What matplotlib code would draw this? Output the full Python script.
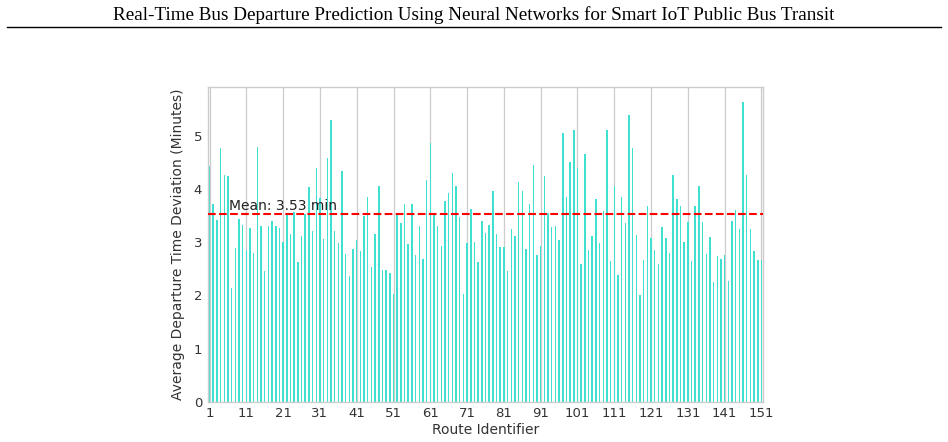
import matplotlib
matplotlib.use("Agg")
import matplotlib.pyplot as plt
from matplotlib.lines import Line2D
import numpy as np

title_text = "Real-Time Bus Departure Prediction Using Neural Networks for Smart IoT Public Bus Transit"

route_ids = list(range(1, 152))
deviation = [
    4.43, 3.72, 3.42, 4.77, 4.26, 4.25, 2.14, 2.89, 3.43, 3.33,
    2.85, 3.27, 2.79, 4.78, 3.30, 2.45, 3.30, 3.40, 3.31, 3.27,
    3.00, 3.52, 3.16, 3.56, 2.62, 3.12, 3.53, 4.03, 3.21, 4.40,
    3.83, 3.06, 4.58, 5.30, 3.21, 2.99, 4.34, 2.78, 2.36, 2.87,
    3.04, 2.83, 3.49, 3.84, 2.53, 3.15, 4.05, 2.47, 2.47, 2.41,
    2.02, 3.54, 3.35, 3.72, 2.96, 3.72, 2.75, 3.30, 2.68, 4.17,
    4.86, 3.52, 3.30, 2.93, 3.77, 3.92, 4.30, 4.06, 3.48, 2.02,
    2.99, 3.63, 3.01, 2.62, 3.40, 3.18, 3.33, 3.97, 3.16, 2.91,
    2.91, 2.45, 3.24, 3.12, 4.13, 3.97, 2.87, 3.71, 4.45, 2.76,
    2.93, 4.25, 3.54, 3.28, 3.31, 3.04, 5.06, 3.85, 4.50, 5.11,
    4.39, 2.58, 4.65, 2.85, 3.11, 3.81, 2.99, 3.58, 5.11, 2.64,
    4.06, 2.38, 3.84, 3.35, 5.39, 4.77, 3.14, 2.00, 2.66, 3.68,
    3.07, 2.86, 2.59, 3.29, 3.08, 2.79, 4.26, 3.81, 3.68, 3.01,
    3.38, 2.64, 3.68, 4.06, 3.38, 2.78, 3.09, 2.25, 2.74, 2.68,
    2.76, 2.26, 3.40, 3.60, 3.25, 5.63, 4.26, 3.24, 2.83, 2.66,
    2.66,
]
mean_value = 3.53
tick_positions = list(range(1, 152, 10))
tick_labels = [str(t) for t in tick_positions]

fig = plt.figure(figsize=(9.48, 4.42), dpi=100)

# page header
fig.text(0.5, 1 - 15 / 442, title_text, ha="center", va="center",
         family="Liberation Serif", fontsize=13.8, color="black")
fig.add_artist(Line2D([7 / 948, 941 / 948], [1 - 27 / 442, 1 - 27 / 442],
                      color="black", linewidth=1.0, transform=fig.transFigure))

ax = fig.add_axes([207.7 / 948, 40.3 / 442, (763.3 - 207.7) / 948, (401.7 - 87.3) / 442])
ax.bar(route_ids, deviation, width=0.4, color="#40E0D0", zorder=2)
ax.axhline(mean_value, color="red", linestyle="--", linewidth=1.5, zorder=3)
ax.text(6.35, mean_value + 0.01, f"Mean: {mean_value:.2f} min", ha="left", va="bottom",
        fontsize=10, color="#222222", zorder=4)

ax.set_xlim(0.5, 151.5)
ax.set_ylim(0, 5.91)
ax.set_xticks(tick_positions)
ax.set_xticklabels(tick_labels)
ax.set_yticks([0, 1, 2, 3, 4, 5])
ax.tick_params(axis="both", length=0, labelsize=9.5, colors="#333333", pad=4)
ax.grid(axis="x", color="#cccccc", linewidth=0.9, zorder=0)
ax.grid(axis="y", visible=False)
for s in ax.spines.values():
    s.set_color("#cccccc")
    s.set_linewidth(1.0)
ax.set_xlabel("Route Identifier", fontsize=10, color="#333333", labelpad=2)
ax.set_ylabel("Average Departure Time Deviation (Minutes)", fontsize=10, color="#333333", labelpad=6)

fig.savefig("out.png", dpi=100)
